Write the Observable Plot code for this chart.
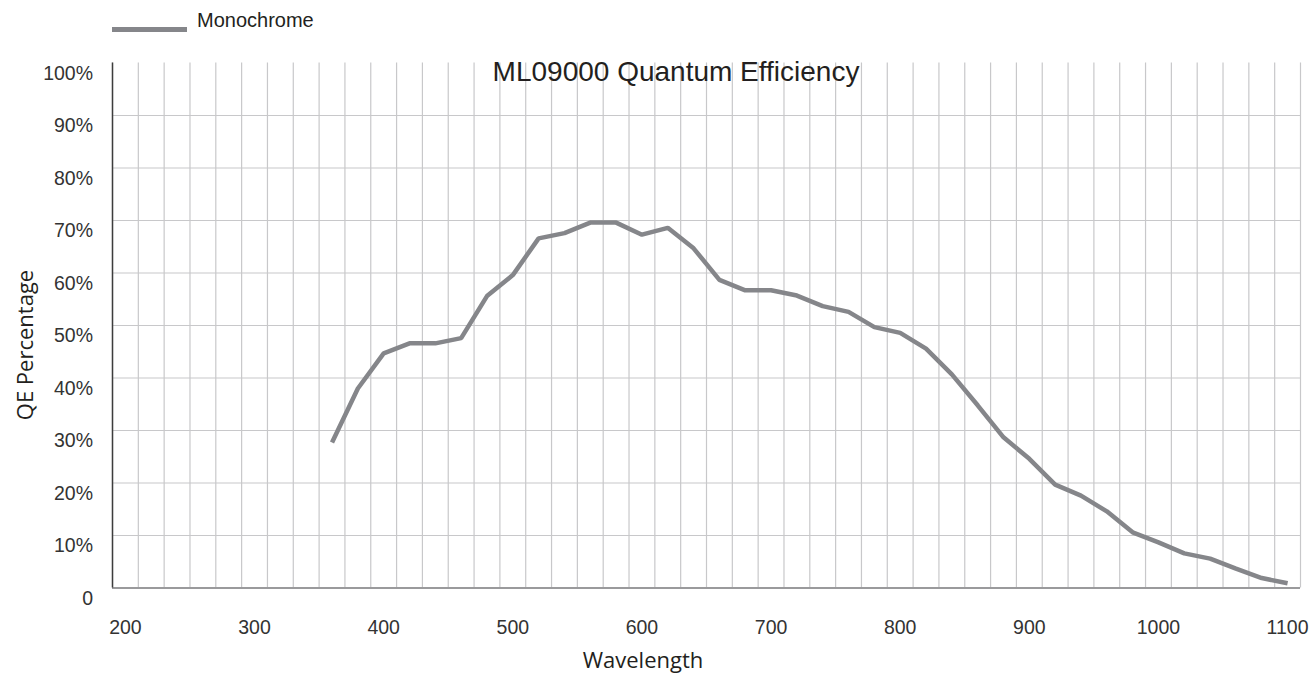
<!DOCTYPE html>
<html>
<head>
<meta charset="utf-8">
<script src="https://cdn.jsdelivr.net/npm/d3@7"></script>
<script src="https://cdn.jsdelivr.net/npm/@observablehq/plot@0.6"></script>
<style>
  html, body { margin: 0; padding: 0; background: #fff; }
  #wrap { position: relative; width: 1311px; height: 674px; overflow: hidden; }
  .t { position: absolute; white-space: nowrap; color: #231f20; line-height: normal; }
  #legend-line { position: absolute; left: 112px; top: 27px; width: 75px; height: 5px; background: #85868a; }
  #legend-text { left: 197px; top: 8.5px; font: 20px "Liberation Sans", Arial, sans-serif; }
  #title { left: 676px; top: 56px; transform: translateX(-50%); font: 28px "Liberation Sans", Arial, sans-serif; }
  #xlabel { left: 643px; top: 647.5px; transform: translateX(-50%); font: 22px "Open Sans", sans-serif; line-height: 22px; }
  #ylabel { left: 24px; top: 345px; transform: translate(-50%, -50%) rotate(-90deg); font: 22px "Open Sans", sans-serif; }
</style>
</head>
<body>
<div id="wrap">
  <div id="chart"></div>
  <div id="legend-line"></div>
  <div class="t" id="legend-text"></div>
  <div class="t" id="title"></div>
  <div class="t" id="xlabel"></div>
  <div class="t" id="ylabel"></div>
</div>
<script>
const titleText = "ML09000 Quantum Efficiency";
const seriesName = "Monochrome";
const xTitle = "Wavelength";
const yTitle = "QE Percentage";

const wavelength = [360, 380, 400, 420, 440, 460, 480, 500, 520, 540, 560, 580, 600, 620, 640, 660, 680, 700, 720, 740, 760, 780, 800, 820, 840, 860, 880, 900, 920, 940, 960, 980, 1000, 1020, 1040, 1060, 1080, 1100];
const qe = [27.7, 38, 44.7, 46.6, 46.6, 47.6, 55.6, 59.6, 66.6, 67.6, 69.6, 69.6, 67.3, 68.6, 64.7, 58.7, 56.7, 56.7, 55.7, 53.7, 52.6, 49.7, 48.6, 45.6, 40.7, 34.8, 28.7, 24.6, 19.7, 17.6, 14.6, 10.6, 8.7, 6.6, 5.6, 3.7, 1.9, 0.9];

const xTickLabels = [200, 300, 400, 500, 600, 700, 800, 900, 1000, 1100];
const yTickValues = [0, 10, 20, 30, 40, 50, 60, 70, 80, 90, 100];
const xDomain = [190, 1110];
const xGridStep = 20;

document.getElementById("legend-text").textContent = seriesName;
document.getElementById("title").textContent = titleText;
document.getElementById("xlabel").textContent = xTitle;
document.getElementById("ylabel").textContent = yTitle;

const data = wavelength.map((w, i) => ({w, v: qe[i]}));
const xGrid = d3.range(xDomain[0], xDomain[1] + 1, xGridStep);
const yGrid = yTickValues.filter(v => v > 0 && v < 100);

const chart = Plot.plot({
  width: 1311,
  height: 674,
  marginLeft: 112,
  marginRight: 11,
  marginTop: 62.5,
  marginBottom: 86.5,
  style: {fontFamily: '"Liberation Sans", Arial, sans-serif', fontSize: "19.5px", color: "#333", background: "#fff"},
  x: {domain: xDomain},
  y: {domain: [0, 100]},
  marks: [
    Plot.ruleX(xGrid, {stroke: "#c8c8ca", strokeWidth: 1.2}),
    Plot.ruleY(yGrid, {stroke: "#c8c8ca", strokeWidth: 1.2}),
    Plot.ruleY([0], {stroke: "#9a9a9c", strokeWidth: 2}),
    Plot.ruleX([xDomain[0]], {stroke: "#3d3d3d", strokeWidth: 1.5}),
    Plot.line(data, {x: "w", y: "v", stroke: "#85868a", strokeWidth: 4.5, strokeLinejoin: "miter", strokeLinecap: "butt"}),
    Plot.axisX({ticks: xTickLabels, tickSize: 0, tickPadding: 32, label: null, tickFormat: d => String(d), fill: "#333"}),
    Plot.axisY({ticks: yTickValues, tickSize: 0, tickPadding: 19.5, dy: 10.5, label: null, tickFormat: d => d === 0 ? "0" : d + "%", fill: "#333"})
  ]
});
document.getElementById("chart").appendChild(chart);
</script>
</body>
</html>
